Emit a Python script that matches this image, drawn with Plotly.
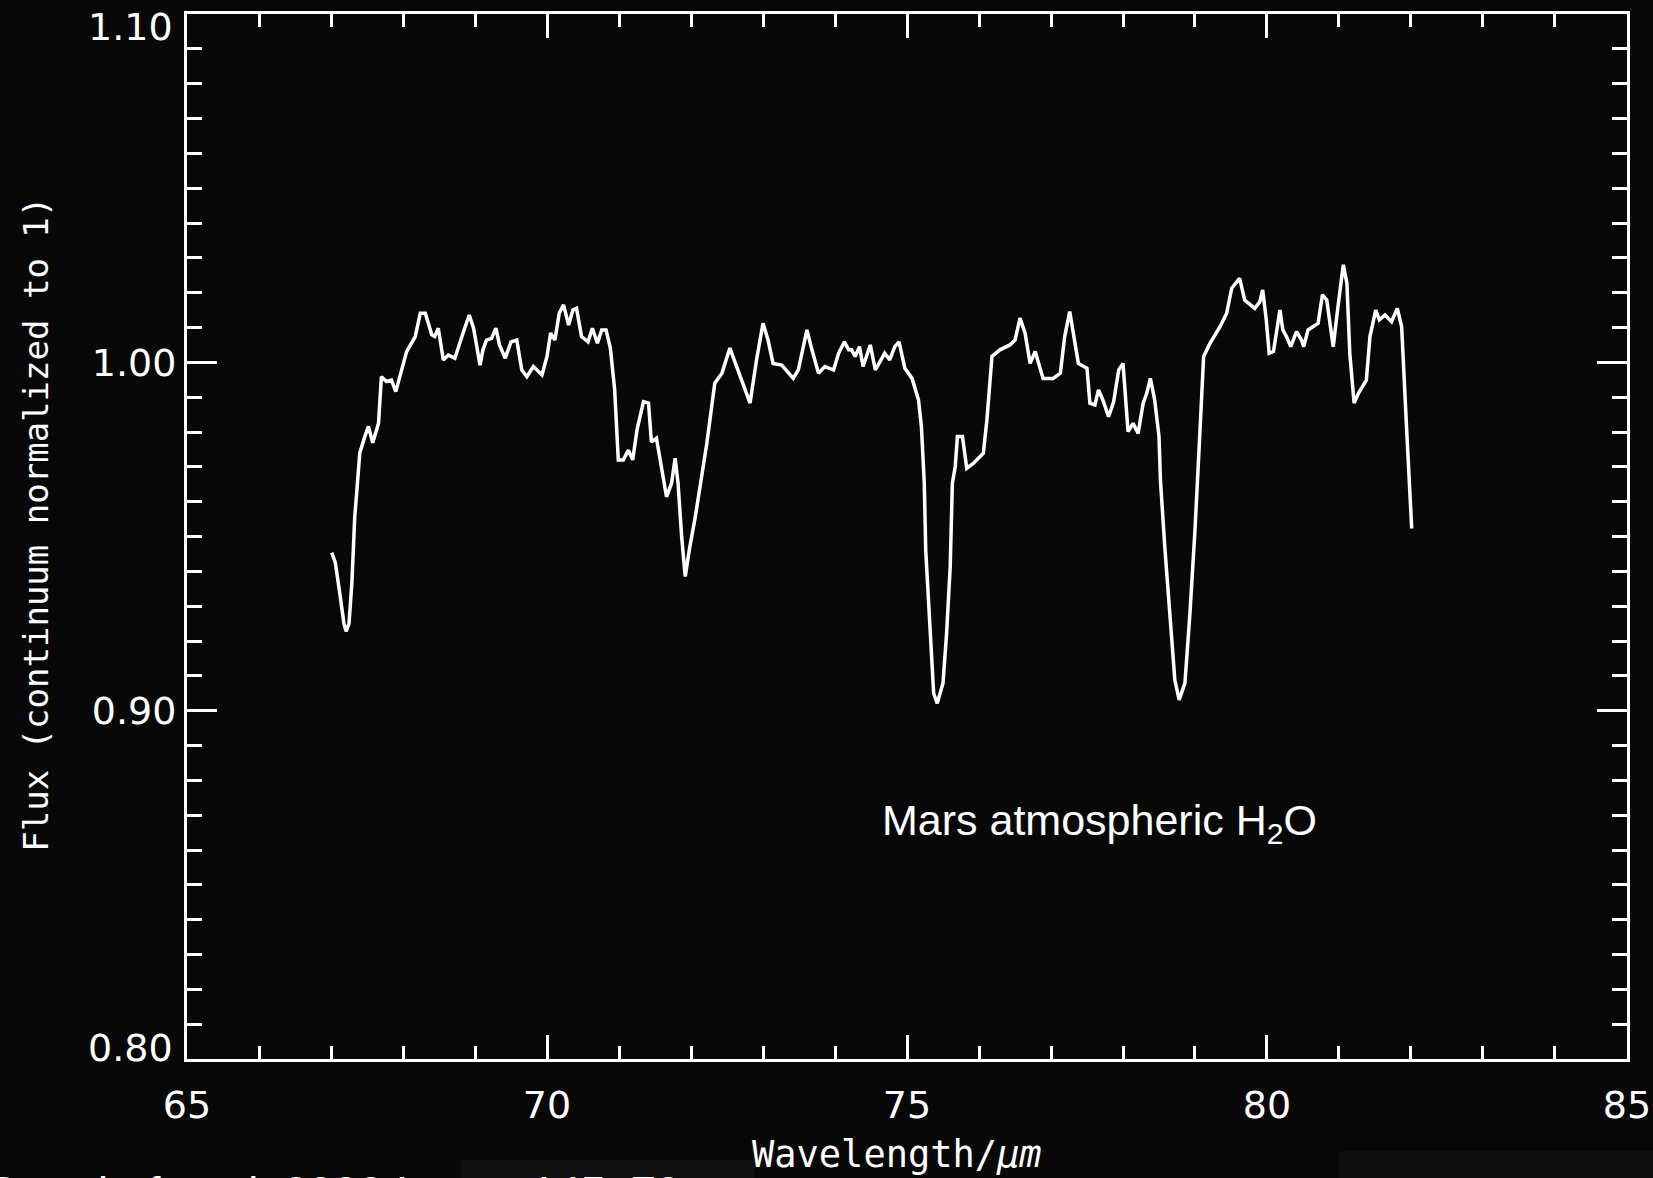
import plotly.graph_objects as go

# Wavelength (micron) and normalized flux
wavelength = [
    67.01, 67.06, 67.12, 67.18, 67.21, 67.25, 67.29, 67.33, 67.36, 67.40,
    67.47, 67.52, 67.58, 67.66, 67.70, 67.77, 67.84, 67.90, 68.05, 68.17,
    68.24, 68.31, 68.40, 68.44, 68.49, 68.56, 68.63, 68.72, 68.84, 68.92,
    68.98, 69.07, 69.11, 69.16, 69.23, 69.29, 69.34, 69.42, 69.50, 69.58,
    69.65, 69.72, 69.81, 69.93, 70.00, 70.05, 70.11, 70.17, 70.23, 70.30,
    70.36, 70.41, 70.48, 70.57, 70.63, 70.70, 70.76, 70.82, 70.88, 70.94,
    70.99, 71.06, 71.13, 71.19, 71.25, 71.34, 71.41, 71.45, 71.52, 71.62,
    71.66, 71.73, 71.78, 71.82, 71.87, 71.92, 71.98, 72.06, 72.13, 72.22,
    72.33, 72.43, 72.54, 72.68, 72.82, 72.91, 73.00, 73.07, 73.14, 73.26,
    73.42, 73.49, 73.61, 73.68, 73.77, 73.86, 73.98, 74.05, 74.13, 74.19,
    74.23, 74.28, 74.34, 74.39, 74.49, 74.56, 74.63, 74.69, 74.76, 74.83,
    74.89, 74.97, 75.07, 75.16, 75.20, 75.24, 75.26, 75.32, 75.37, 75.42,
    75.50, 75.55, 75.60, 75.63, 75.67, 75.70, 75.77, 75.83, 75.92, 76.06,
    76.11, 76.18, 76.29, 76.43, 76.50, 76.57, 76.64, 76.71, 76.78, 76.89,
    77.03, 77.13, 77.19, 77.26, 77.33, 77.38, 77.50, 77.54, 77.61, 77.66,
    77.72, 77.80, 77.87, 77.94, 78.00, 78.07, 78.14, 78.21, 78.28, 78.33,
    78.38, 78.44, 78.50, 78.52, 78.58, 78.65, 78.72, 78.78, 78.86, 78.93,
    79.00, 79.07, 79.12, 79.21, 79.35, 79.44, 79.51, 79.62, 79.69, 79.83,
    79.90, 79.94, 79.99, 80.03, 80.09, 80.18, 80.22, 80.27, 80.33, 80.41,
    80.48, 80.51, 80.57, 80.71, 80.77, 80.83, 80.92, 80.98, 81.06, 81.11,
    81.15, 81.21, 81.27, 81.38, 81.43, 81.51, 81.56, 81.64, 81.73, 81.81,
    81.87, 81.94, 82.01,
]
flux = [
    0.9454, 0.9425, 0.9340, 0.9250, 0.9228, 0.9250, 0.9367, 0.9557, 0.9634, 0.9740,
    0.9787, 0.9816, 0.9769, 0.9825, 0.9959, 0.9945, 0.9949, 0.9916, 1.0031, 1.0074,
    1.0141, 1.0141, 1.0079, 1.0074, 1.0098, 1.0007, 1.0021, 1.0012, 1.0088, 1.0136,
    1.0098, 0.9992, 1.0036, 1.0064, 1.0069, 1.0098, 1.0050, 1.0012, 1.0059, 1.0064,
    0.9978, 0.9959, 0.9988, 0.9964, 1.0017, 1.0084, 1.0064, 1.0141, 1.0165, 1.0107,
    1.0150, 1.0155, 1.0074, 1.0059, 1.0098, 1.0055, 1.0093, 1.0093, 1.0041, 0.9921,
    0.9720, 0.9720, 0.9748, 0.9720, 0.9806, 0.9887, 0.9883, 0.9772, 0.9782, 0.9662,
    0.9614, 0.9653, 0.9725, 0.9653, 0.9500, 0.9385, 0.9466, 0.9557, 0.9653, 0.9768,
    0.9940, 0.9969, 1.0041, 0.9959, 0.9883, 1.0007, 1.0112, 1.0064, 0.9997, 0.9992,
    0.9954, 0.9978, 1.0093, 1.0036, 0.9969, 0.9988, 0.9978, 1.0026, 1.0059, 1.0036,
    1.0036, 1.0017, 1.0045, 0.9988, 1.0050, 0.9978, 1.0002, 1.0026, 1.0007, 1.0045,
    1.0059, 0.9983, 0.9954, 0.9892, 0.9816, 0.9653, 0.9461, 0.9222, 0.9050, 0.9021,
    0.9079, 0.9222, 0.9413, 0.9653, 0.9701, 0.9787, 0.9787, 0.9696, 0.9710, 0.9739,
    0.9835, 1.0017, 1.0036, 1.0050, 1.0064, 1.0127, 1.0084, 0.9997, 1.0031, 0.9954,
    0.9954, 0.9969, 1.0074, 1.0146, 1.0064, 0.9997, 0.9983, 0.9883, 0.9878, 0.9921,
    0.9892, 0.9844, 0.9887, 0.9978, 0.9997, 0.9801, 0.9825, 0.9796, 0.9883, 0.9911,
    0.9954, 0.9892, 0.9787, 0.9662, 0.9471, 0.9280, 0.9088, 0.9031, 0.9079, 0.9280,
    0.9519, 0.9806, 1.0017, 1.0055, 1.0103, 1.0141, 1.0213, 1.0241, 1.0179, 1.0155,
    1.0174, 1.0208, 1.0122, 1.0026, 1.0031, 1.0150, 1.0093, 1.0074, 1.0045, 1.0088,
    1.0064, 1.0045, 1.0093, 1.0112, 1.0194, 1.0179, 1.0045, 1.0150, 1.0280, 1.0227,
    1.0026, 0.9883, 0.9911, 0.9949, 1.0074, 1.0150, 1.0122, 1.0136, 1.0117, 1.0155,
    1.0103, 0.9806, 0.9523,
]

x_ticks = [65, 70, 75, 80, 85]
y_ticks = [0.80, 0.90, 1.00, 1.10]
y_ticktext = ["0.80", "0.90", "1.00", "1.10"]

x_title = "Wavelength/<i>μm</i>"
y_title = "Flux (continuum normalized to 1)"
label_text = "Mars atmospheric H<sub>2</sub>O"
citation = "Burgdorf et al. 2000 Icarus 145, 79"

BG = "#080808"
FG = "white"
AXFONT = "DejaVu Sans"
TITLEFONT = "DejaVu Sans Mono"
TICKSIZE = 38

fig = go.Figure()
fig.add_trace(go.Scatter(
    x=wavelength, y=flux, mode="lines",
    line=dict(color=FG, width=3.5),
    showlegend=False, hoverinfo="skip",
))

axis_common = dict(
    showgrid=False, zeroline=False, automargin=False,
    showline=True, linecolor=FG, linewidth=3,
    mirror="allticks", ticks="inside",
    tickcolor=FG, tickwidth=3,
    ticklabeloverflow="allow",
    tickfont=dict(family=AXFONT, size=TICKSIZE, color=FG),
)

fig.update_xaxes(
    **axis_common,
    range=[65, 85.0001], tickvals=x_ticks, ticklen=24,
    ticklabelstandoff=10,
    minor=dict(dtick=1, ticks="inside", ticklen=13, tickwidth=3, tickcolor=FG),
)

# end labels (0.80 / 1.10) sit slightly inside the frame in the original,
# so they are drawn as annotations at the same data values
inner_text = [t if 0 < i < len(y_ticks) - 1 else "" for i, t in enumerate(y_ticktext)]
fig.update_yaxes(
    **axis_common,
    range=[0.80, 1.10001], tickvals=y_ticks, ticktext=inner_text, ticklen=30,
    ticklabelstandoff=0,
    minor=dict(dtick=0.01, ticks="inside", ticklen=15, tickwidth=3, tickcolor=FG),
)
for idx, shift in ((0, 11), (len(y_ticks) - 1, -13)):
    fig.add_annotation(
        text=y_ticktext[idx], xref="paper", yref="y", x=0, y=y_ticks[idx],
        xanchor="right", yanchor="middle", xshift=-12, yshift=shift,
        showarrow=False, font=dict(family=AXFONT, size=TICKSIZE, color=FG),
    )

fig.add_annotation(
    text=x_title, xref="paper", yref="paper", x=0.493, y=-0.091,
    xanchor="center", yanchor="middle", showarrow=False,
    font=dict(family=TITLEFONT, size=37, color=FG),
)
fig.add_annotation(
    text=y_title, xref="paper", yref="paper", x=-0.105, y=0.512,
    xanchor="center", yanchor="middle", showarrow=False, textangle=-90,
    font=dict(family=TITLEFONT, size=34, color=FG),
)
fig.add_annotation(
    text=label_text, xref="x", yref="y", x=77.67, y=0.8678,
    xanchor="center", yanchor="middle", showarrow=False,
    font=dict(family="Liberation Sans, Arial", size=43, color=FG),
)
fig.add_annotation(
    text=citation, xref="paper", yref="paper", x=-0.1394, y=-0.1016,
    xanchor="left", yanchor="top", showarrow=False,
    font=dict(family="Liberation Sans, Arial", size=45, color=FG),
)

# faint scan smudges near the bottom edge
fig.add_shape(type="rect", xref="paper", yref="paper",
              x0=0.19, x1=0.394, y0=-0.0967, y1=-0.12,
              fillcolor="#111111", line=dict(width=0), layer="below")
fig.add_shape(type="rect", xref="paper", yref="paper",
              x0=0.80, x1=1.03, y0=-0.088, y1=-0.12,
              fillcolor="#0e0e0e", line=dict(width=0), layer="below")

fig.update_layout(
    width=1653, height=1178, autosize=False,
    margin=dict(l=187, r=26, t=14, b=119),
    paper_bgcolor=BG, plot_bgcolor=BG,
)

fig.write_html(
    "out.html",
    config={"displayModeBar": False},
    post_script=(
        "document.body.style.margin='0';"
        "document.body.style.padding='0';"
        "document.body.style.overflow='hidden';"
        "document.body.style.background='#080808';"
        "document.documentElement.style.background='#080808';"
    ),
)
